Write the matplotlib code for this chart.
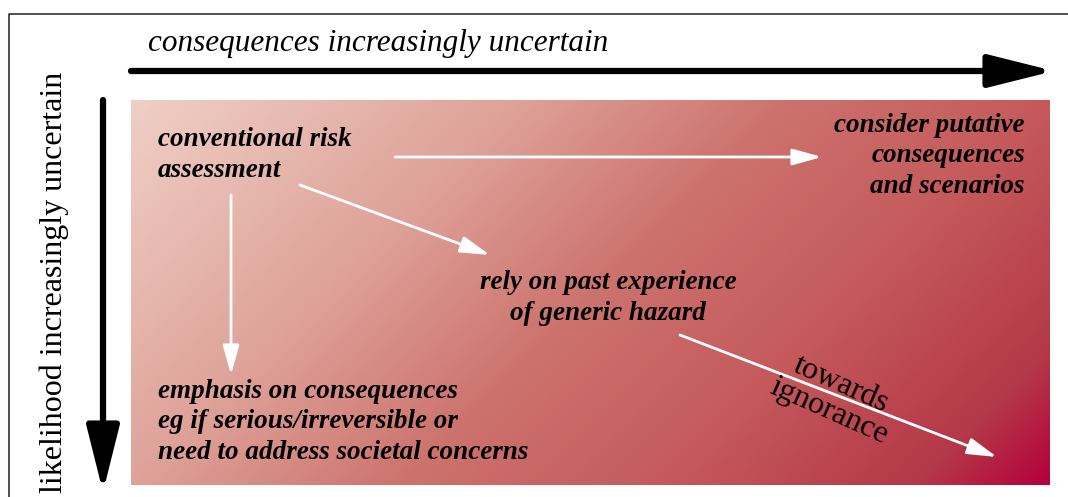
import numpy as np
import matplotlib.pyplot as plt
from matplotlib.colors import LinearSegmentedColormap

W, H = 1068, 497

# text boxes (label, x, y, horizontal alignment)
labels = [
    ("conventional risk\nassessment", 158, 155, "left"),
    ("consider putative\nconsequences\nand scenarios", 1025, 156, "right"),
    ("rely on past experience\nof generic hazard", 608, 298, "center"),
    ("emphasis on consequences\neg if serious/irreversible or\nneed to address societal concerns", 158, 422, "left"),
]

# white arrows: start, end
arrows = [
    ((395, 157), (822, 157)),
    ((300, 185), (490, 255)),
    ((231, 195), (231, 375)),
    ((680, 335), (997, 457)),
]

grad_stops = [(0.0, "#efcfc6"), (0.3, "#dea198"), (0.5, "#cd736e"),
              (0.7, "#c55a5c"), (0.9, "#b43848"), (1.0, "#b4003c")]

fig = plt.figure(figsize=(W / 100, H / 100), dpi=100)
ax = fig.add_axes([0, 0, 1, 1])
ax.set_xlim(0, W)
ax.set_ylim(H, 0)
ax.axis("off")

# frame
ax.plot([9, 9, W], [H, 14, 14], color="#333333", lw=1.2)

# gradient box
x0, x1, y0, y1 = 131, 1050, 100, 485
xx, yy = np.meshgrid(np.linspace(0, 1, 400), np.linspace(0, 1, 200))
t = (xx * (x1 - x0) + yy * (y1 - y0)) / ((x1 - x0) + (y1 - y0))
cmap = LinearSegmentedColormap.from_list("g", grad_stops)
ax.imshow(t, cmap=cmap, extent=[x0, x1, y1, y0], aspect="auto", interpolation="bilinear", zorder=1)

# black axis arrows
big = dict(arrowstyle="-|>,head_length=2.0,head_width=0.5", lw=4.5, color="black",
           shrinkA=0, shrinkB=0, mutation_scale=20)
ax.annotate("", xy=(1054, 71), xytext=(131, 71), arrowprops=big)
ax.annotate("", xy=(103, 492), xytext=(103, 100), arrowprops=big)

ax.text(148, 44, "consequences increasingly uncertain", fontsize=22.5, style="italic",
        family="Liberation Serif", va="center", ha="left")
ax.text(54, 282, "likelihood increasingly uncertain", fontsize=23, rotation=90,
        family="Liberation Serif", va="center", ha="center")

small = dict(arrowstyle="-|>,head_length=1.8,head_width=0.5", lw=2, color="white",
             shrinkA=0, shrinkB=0, mutation_scale=10)
for (a, b) in arrows:
    ax.annotate("", xy=b, xytext=a, zorder=3, arrowprops=small)

for txt, x, y, ha in labels:
    ax.text(x, y, txt, fontsize=19.5, style="italic", weight="bold", family="Liberation Serif",
            ha=ha, va="center", multialignment=ha, linespacing=1.3, zorder=4)

ax.text(835, 398, "towards\nignorance", fontsize=23, family="Liberation Serif", rotation=-24,
        ha="center", va="center", linespacing=1.05, rotation_mode="anchor", zorder=4)

fig.savefig("out.png", dpi=100)
